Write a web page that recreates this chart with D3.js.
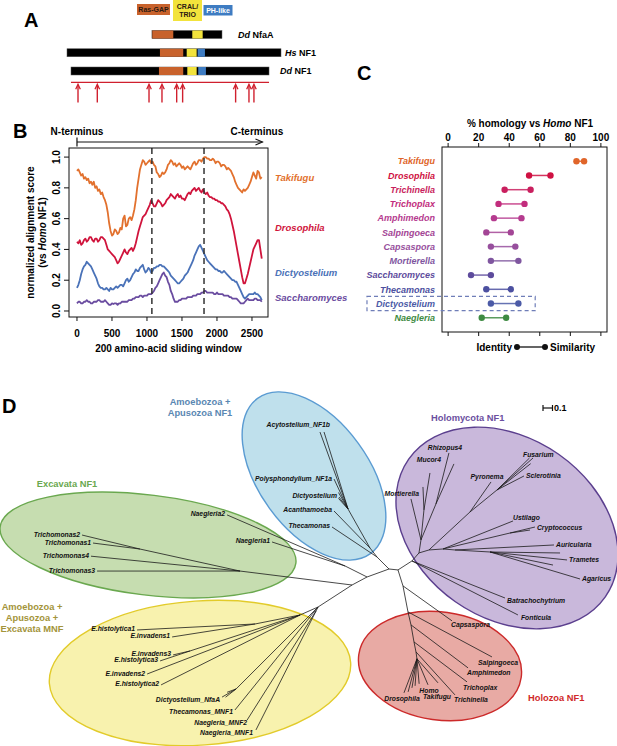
<!DOCTYPE html>
<html>
<head>
<meta charset="utf-8">
<script src="https://cdn.jsdelivr.net/npm/d3@7"></script>
<style>
  body { margin: 0; background: #fff; }
  svg { display: block; font-family: "Liberation Sans", Arial, sans-serif; font-weight: bold; }
</style>
</head>
<body>
<svg id="fig" width="617" height="746"></svg>
<script>
// ---------- A: domain architecture (aa positions, aligned on Hs NF1) ----------
var proteinNames = ['Dd NfaA', 'Hs NF1', 'Dd NF1'];
var proteinSpans = [[1127, 2056], [0, 2839], [53, 2680]];
var domainTypes = ['Ras-GAP', 'CRAL/TRIO', 'PH-like'];
var domainSpans = [
  [[1131, 1410], [1662, 1800], null],
  [[1233, 1542], [1588, 1720], [1733, 1830]],
  [[1220, 1542], [1596, 1720], [1741, 1843]]
];
var mutationSites = [146, 402, 1088, 1260, 1455, 1534, 2237, 2414, 2480];

// ---------- B: sliding window alignment score (one value every 20 aa) ----------
var windowStep = 20;
var bSeries = ['Takifugu', 'Drosophila', 'Dictyostelium', 'Saccharomyces'];
var takifuguScore = [.91,.92,.90,.88,.89,.86,.87,.85,.86,.83,
  .84,.82,.84,.80,.81,.78,.79,.76,.77,.74,
  .72,.69,.64,.57,.52,.49,.50,.53,.52,.50,
  .51,.54,.53,.60,.62,.55,.56,.60,.61,.59,
  .62,.66,.72,.80,.86,.92,.95,.98,.97,.95,
  .96,.97,.98,.96,.97,.95,.94,.90,.89,.87,
  .88,.90,.89,.90,.92,.95,.96,.98,.97,.95,
  .96,.94,.95,.96,.95,.93,.94,.92,.93,.94,
  .93,.92,.94,.96,.97,.95,.96,.98,.98,.97,
  .99,1.0,1.0,.99,.99,.98,.98,.99,.98,.96,
  .97,.97,.96,.94,.95,.95,.94,.92,.93,.92,
  .91,.89,.87,.84,.82,.80,.79,.78,.77,.79,
  .78,.79,.80,.82,.84,.87,.90,.88,.86,.91,
  .90,.86,.87];
var drosophilaScore = [.45,.44,.46,.43,.44,.46,.47,.45,.46,.48,
  .48,.46,.45,.47,.47,.45,.46,.48,.48,.47,
  .46,.43,.40,.39,.38,.37,.36,.35,.33,.31,
  .32,.34,.36,.38,.40,.38,.37,.39,.40,.41,
  .39,.41,.44,.48,.52,.55,.58,.61,.62,.63,
  .65,.67,.69,.72,.70,.68,.68,.70,.72,.71,
  .70,.68,.69,.70,.72,.73,.74,.76,.75,.74,
  .73,.75,.76,.74,.75,.73,.73,.72,.74,.76,
  .77,.76,.78,.79,.80,.78,.79,.80,.78,.77,
  .79,.77,.76,.77,.75,.74,.74,.73,.73,.72,
  .72,.71,.71,.70,.70,.69,.68,.66,.65,.63,
  .60,.56,.52,.47,.42,.37,.32,.27,.22,.18,
  .18,.21,.24,.28,.32,.36,.40,.42,.44,.46,
  .46,.40,.34];
var dictyScore = [.15,.17,.20,.24,.27,.29,.30,.32,.31,.30,
  .29,.27,.25,.23,.21,.18,.16,.15,.15,.14,
  .14,.15,.14,.13,.15,.14,.14,.15,.16,.15,
  .16,.17,.17,.16,.18,.20,.21,.19,.20,.22,
  .24,.25,.27,.26,.26,.28,.29,.30,.27,.25,
  .26,.28,.27,.25,.26,.28,.28,.29,.29,.30,
  .30,.29,.29,.28,.27,.26,.25,.23,.22,.21,
  .20,.19,.18,.18,.19,.20,.21,.23,.24,.25,
  .27,.29,.31,.33,.36,.38,.40,.42,.43,.41,
  .39,.37,.35,.33,.32,.31,.30,.29,.28,.27,
  .27,.26,.26,.25,.25,.26,.25,.24,.23,.22,
  .21,.20,.20,.19,.19,.17,.15,.13,.11,.09,
  .08,.09,.10,.11,.11,.11,.11,.12,.11,.11,
  .10,.09,.07];
var saccharoScore = [.05,.06,.06,.05,.05,.06,.06,.07,.06,.06,
  .05,.05,.06,.06,.06,.07,.07,.06,.06,.06,
  .07,.06,.05,.04,.04,.05,.045,.05,.05,.04,
  .05,.05,.06,.06,.06,.06,.06,.07,.07,.07,
  .08,.08,.09,.09,.09,.10,.10,.09,.10,.10,
  .10,.11,.11,.11,.12,.13,.15,.16,.18,.20,
  .22,.24,.25,.23,.22,.19,.17,.13,.11,.08,
  .06,.06,.06,.07,.07,.08,.08,.08,.08,.09,
  .09,.09,.09,.10,.10,.10,.11,.11,.11,.12,
  .12,.13,.13,.12,.12,.12,.12,.12,.11,.11,
  .12,.11,.11,.11,.11,.10,.10,.10,.10,.09,
  .09,.08,.08,.08,.08,.07,.06,.05,.05,.05,
  .06,.07,.08,.07,.07,.07,.07,.08,.08,.07,
  .07,.07,.06];
var bLabelLevels = [0.87, 0.545, 0.25, 0.09];
var domainBreaks = [1070, 1815];
var bXTicks = [0, 500, 1000, 1500, 2000, 2500];
var bYTicks = [0, 0.2, 0.4, 0.6, 0.8, 1.0];

// ---------- C: % identity / similarity vs Homo NF1 ----------
var cSpecies = ['Takifugu', 'Drosophila', 'Trichinella', 'Trichoplax', 'Amphimedon', 'Salpingoeca',
  'Capsaspora', 'Mortierella', 'Saccharomyces', 'Thecamonas', 'Dictyostelium', 'Naegleria'];
var cIdentity = [84, 53, 37, 33, 30, 25, 28, 28, 15, 25, 28, 22];
var cSimilarity = [89, 67, 54, 50, 48, 41, 44, 46, 28, 41, 46, 38];
var cTicks = [0, 20, 40, 60, 80, 100];

// ---------- D: unrooted NF1 tree: [node, parent, branch length (subst/site), direction (deg)] ----------
var treeEdges = [
  ['R0', 'L0', 0.095, 6], ['A0', 'L0', 0.179, -135], ['X0', 'L0', 0.246, 160],
  ['N0', 'X0', 0.259, -153.4], ['Naegleria2', 'N0', 1.353, -156.6], ['Naegleria1', 'N0', 0.809, -161.8],
  ['X1', 'X0', 0.179, 151.9], ['T0', 'X1', 1.188, -172.9], ['T1', 'T0', 1.078, -167.6],
  ['Trichomonas2', 'T1', 0.628, -166.4], ['Trichomonas1', 'T1', 0.499, -172.7],
  ['Trichomonas4', 'T0', 1.577, -174.3], ['Trichomonas3', 'T0', 1.505, 180],
  ['M0', 'X1', 0.426, 147.1], ['Me', 'M0', 0.207, 156], ['Me1', 'Me', 0.483, 168.7],
  ['E.histolytica1', 'Me1', 1.244, 177.1], ['E.invadens1', 'Me1', 0.884, 171.1],
  ['Me3', 'Me', 1.218, 161.9], ['E.invadens3', 'Me3', 0.184, 166.8], ['E.histolytica3', 'Me3', 0.333, 161.6],
  ['E.invadens2', 'Me', 1.726, 158.9], ['E.histolytica2', 'Me', 1.638, 153.3],
  ['Md', 'M0', 1.221, 135], ['Dictyostelium_NfaA', 'Md', 0.17, 150], ['_md1', 'Md', 0.14, 142], ['_md2', 'Md', 0.10, 160],
  ['Thecamonas_MNF1', 'M0', 1.393, 128.9], ['Mn', 'M0', 0.047, 116.6],
  ['Naegleria_MNF2', 'Mn', 1.358, 122.3], ['Naegleria_MNF1', 'Mn', 1.403, 116.8],
  ['Thecamonas', 'A0', 0.569, -146.3], ['A1', 'A0', 0.12, -127.9], ['Acanthamoeba', 'A1', 0.543, -134.2],
  ['D0', 'A1', 0.471, -119.4], ['Acytostelium_NF1b', 'D0', 0.862, -110], ['_d1', 'D0', 0.849, -107.3],
  ['Polysphondylium_NF1a', 'D0', 0.348, -115], ['Dictyostelium', 'D0', 0.158, -126.9],
  ['_d2', 'D0', 0.20, -120], ['_d3', 'D0', 0.15, -132],
  ['H0', 'R0', 0.175, -32.7], ['Z0', 'R0', 0.176, 72.6],
  ['Batrachochytrium', 'H0', 1.054, 21.7], ['Fonticula', 'H0', 1.252, 27],
  ['H1', 'H0', 0.112, -48.8], ['Hm', 'H1', 0.139, -81.3], ['Mortierella', 'Hm', 0.444, -103.7],
  ['Hmu', 'Hm', 0.317, -84.3], ['Mucor4', 'Hmu', 0.394, -80.8], ['_m1', 'Hmu', 0.242, -92.5],
  ['Hrh', 'Hm', 0.41, -67.4], ['Rhizopus4', 'Hrh', 0.554, -75.7], ['_m2', 'Hrh', 0.462, -65.8],
  ['Hd', 'H1', 0.11, -16.7], ['Ha', 'Hd', 0.588, -42.8], ['Pyronema', 'Ha', 0.386, -55],
  ['Ha2', 'Ha', 0.367, -39.2], ['Fusarium', 'Ha2', 0.507, -41.6], ['_f1', 'Ha2', 0.48, -44.5],
  ['_f2', 'Ha2', 0.45, -38], ['Sclerotinia', 'Ha2', 0.32, -27.4],
  ['Hb', 'Hd', 0.148, -4], ['Ustilago', 'Hb', 0.794, -21.8], ['Hcr', 'Hb', 0.725, -13.4],
  ['Cryptococcus', 'Hcr', 0.27, -13.5], ['_c1', 'Hcr', 0.213, -8.5],
  ['Hag', 'Hb', 0.127, 4.8], ['Auricularia', 'Hag', 1.043, -2.9], ['Hag2', 'Hag', 0.369, 3.3],
  ['Trametes', 'Hag2', 0.815, 5.9], ['_t1', 'Hag2', 0.737, 0.8], ['_t2', 'Hag2', 0.677, 11.7],
  ['Agaricus', 'Hag2', 0.989, 16.7],
  ['Capsaspora', 'Z0', 0.634, 35.5], ['Z1', 'Z0', 0.279, 79.1], ['Salpingoeca', 'Z1', 1.003, 28.2],
  ['Z2', 'Z1', 0.14, 77], ['Amphimedon', 'Z2', 0.752, 37], ['Z3', 'Z2', 0.182, 80],
  ['Trichoplax', 'Z3', 0.699, 37], ['Z4', 'Z3', 0.107, 78.7], ['Trichinella', 'Z4', 0.611, 47.8],
  ['Z5', 'Z4', 0.074, 81.9], ['Homo', 'Z5', 0.297, 67], ['Takifugu', 'Z5', 0.336, 48.8],
  ['Drosophila', 'Z5', 0.383, 110.9], ['_z1', 'Z5', 0.36, 105], ['_z2', 'Z5', 0.31, 99.8],
  ['_z3', 'Z5', 0.285, 94], ['_z4', 'Z5', 0.264, 85]
];

// ====================================================================
var svg = d3.select('#fig');

function letter(t, x, y) {
  svg.append('text').attr('x', x).attr('y', y).attr('font-size', 20).text(t);
}
letter('A', 24, 27);
letter('B', 13, 138);
letter('C', 357, 80);
letter('D', 2, 413);

// ---------------- panel A ----------------
var domainColors = ['#c8622c', '#f2e33c', '#3e7cc2'];
var ax = d3.scaleLinear().domain([0, 2839]).range([67, 281]);
var aRow = d3.scalePoint().domain(proteinNames).range([34.5, 71]);
var barH = 8;
var gA = svg.append('g');

// legend
var legendBoxes = [[137, 4, 33, 11], [173, 0, 29, 21], [203.5, 5, 29, 10.5]];
domainTypes.forEach(function(d, i) {
  var b = legendBoxes[i];
  gA.append('rect').attr('x', b[0]).attr('y', b[1]).attr('width', b[2]).attr('height', b[3])
    .attr('fill', domainColors[i]);
  var lines = d.indexOf('/') > 0 ? ['CRAL/', 'TRIO'] : [d];
  lines.forEach(function(l, j) {
    gA.append('text').attr('x', b[0] + b[2] / 2).attr('y', b[1] + b[3] / 2 + 2.5 + (j - (lines.length - 1) / 2) * 8.5)
      .attr('text-anchor', 'middle').attr('font-size', 7)
      .attr('fill', i === 2 ? '#fff' : '#2b1a12').text(l);
  });
});

proteinNames.forEach(function(p, i) {
  var y = aRow(p) - barH / 2;
  gA.append('rect').attr('x', ax(proteinSpans[i][0])).attr('y', y)
    .attr('width', ax(proteinSpans[i][1]) - ax(proteinSpans[i][0])).attr('height', barH)
    .attr('fill', '#000').attr('stroke', '#555').attr('stroke-width', 0.5);
  domainSpans[i].forEach(function(s, k) {
    if (!s) return;
    gA.append('rect').attr('x', ax(s[0])).attr('y', y).attr('width', ax(s[1]) - ax(s[0]))
      .attr('height', barH).attr('fill', domainColors[k]);
  });
});
var aLabelX = [238, 285, 280];
proteinNames.forEach(function(p, i) {
  var parts = p.split(' ');
  var t = gA.append('text').attr('x', aLabelX[i]).attr('y', aRow(p) + 3.3).attr('font-size', 9);
  t.append('tspan').attr('font-style', 'italic').text(parts[0]);
  t.append('tspan').text(' ' + parts[1]);
});

// mutation arrows under Dd NF1
var red = '#d0202e';
var mutY0 = 82.3, mutY1 = 102.5;
gA.append('line').attr('x1', ax(proteinSpans[2][0])).attr('x2', ax(proteinSpans[2][1]))
  .attr('y1', mutY0).attr('y2', mutY0).attr('stroke', red).attr('stroke-width', 1.3);
mutationSites.forEach(function(m) {
  var x = ax(m);
  gA.append('line').attr('x1', x).attr('x2', x).attr('y1', mutY1).attr('y2', mutY0 + 2.5)
    .attr('stroke', red).attr('stroke-width', 1.4);
  gA.append('path').attr('d', 'M' + (x - 2.3) + ',' + (mutY0 + 7) + 'L' + x + ',' + (mutY0 + 2) + 'L' + (x + 2.3) + ',' + (mutY0 + 7))
    .attr('fill', 'none').attr('stroke', red).attr('stroke-width', 1.3);
});

// ---------------- panel B ----------------
var bx = d3.scaleLinear().domain([-114, 2729]).range([69, 268]);
var by = d3.scaleLinear().domain([-0.039, 1.059]).range([317, 148]);
var bColors = ['#e2712e', '#d0143c', '#4a72b8', '#6a4ca0'];
var bData = [takifuguScore, drosophilaScore, dictyScore, saccharoScore];
var gB = svg.append('g');

// N -> C terminus arrow
gB.append('text').attr('x', bx(0)).attr('y', 134.5).attr('text-anchor', 'middle').attr('font-size', 10).text('N-terminus');
gB.append('text').attr('x', bx(2570)).attr('y', 134.5).attr('text-anchor', 'middle').attr('font-size', 10).text('C-terminus');
gB.append('line').attr('x1', bx(0)).attr('x2', bx(2650)).attr('y1', 142).attr('y2', 142).attr('stroke', '#111').attr('stroke-width', 1);
gB.append('line').attr('x1', bx(0)).attr('x2', bx(0)).attr('y1', 137.5).attr('y2', 146.5).attr('stroke', '#111').attr('stroke-width', 1.2);
gB.append('path').attr('d', 'M' + (bx(2650) - 7) + ',139L' + bx(2650) + ',142L' + (bx(2650) - 7) + ',145')
  .attr('fill', 'none').attr('stroke', '#111').attr('stroke-width', 1.1);

var line = d3.line().x(function(d) { return bx(d[0]); }).y(function(d) { return by(d[1]); });
bData.forEach(function(vals, i) {
  var pts = vals.map(function(v, k) { return [k * windowStep, v]; });
  gB.append('path').attr('d', line(pts)).attr('fill', 'none').attr('stroke', bColors[i])
    .attr('stroke-width', 1.8).attr('stroke-linejoin', 'round');
});
domainBreaks.forEach(function(d) {
  gB.append('line').attr('x1', bx(d)).attr('x2', bx(d)).attr('y1', 148).attr('y2', 317)
    .attr('stroke', '#333').attr('stroke-width', 1.5).attr('stroke-dasharray', '6,4');
});
gB.append('rect').attr('x', 69).attr('y', 148).attr('width', 199).attr('height', 169)
  .attr('fill', 'none').attr('stroke', '#111').attr('stroke-width', 1);

bXTicks.forEach(function(t) {
  gB.append('line').attr('x1', bx(t)).attr('x2', bx(t)).attr('y1', 317).attr('y2', 321).attr('stroke', '#111');
  gB.append('text').attr('x', bx(t)).attr('y', 337).attr('text-anchor', 'middle').attr('font-size', 10).text(t);
});
bYTicks.forEach(function(t) {
  gB.append('line').attr('x1', 64).attr('x2', 69).attr('y1', by(t)).attr('y2', by(t)).attr('stroke', '#111');
  gB.append('text').attr('transform', 'translate(59.5,' + by(t) + ') rotate(-90)')
    .attr('text-anchor', 'middle').attr('font-size', 10).text(d3.format('.1f')(t));
});
gB.append('text').attr('x', 168.5).attr('y', 352).attr('text-anchor', 'middle').attr('font-size', 10)
  .text('200 amino-acid sliding window');
gB.append('text').attr('transform', 'translate(34,232.5) rotate(-90)').attr('text-anchor', 'middle')
  .attr('font-size', 10).text('normalized alignment score');
var yt2 = gB.append('text').attr('transform', 'translate(46,232.5) rotate(-90)').attr('text-anchor', 'middle').attr('font-size', 10);
yt2.append('tspan').text('(vs ');
yt2.append('tspan').attr('font-style', 'italic').text('Homo');
yt2.append('tspan').text(' NF1)');
bSeries.forEach(function(s, i) {
  gB.append('text').attr('x', 275).attr('y', by(bLabelLevels[i]) + 3.5).attr('font-size', 9.5)
    .attr('font-style', 'italic').attr('fill', bColors[i]).text(s);
});

// ---------------- panel C ----------------
var cx = d3.scaleLinear().domain([-4, 104]).range([442, 607]);
var cy = d3.scaleLinear().domain([0, 13]).range([147, 332]);
var cColors = ['#e0652a', '#cf1142', '#c91f5e', '#c22d7d', '#b53b8f', '#a34595',
  '#974f9d', '#7f569f', '#5d4b9c', '#4c50a0', '#4b5aa6', '#3e8b42'];
var gC = svg.append('g');
var ct = gC.append('text').attr('x', 530).attr('y', 126.5).attr('text-anchor', 'middle').attr('font-size', 10);
ct.append('tspan').text('% homology vs ');
ct.append('tspan').attr('font-style', 'italic').text('Homo');
ct.append('tspan').text(' NF1');
cTicks.forEach(function(t) {
  gC.append('line').attr('x1', cx(t)).attr('x2', cx(t)).attr('y1', 143).attr('y2', 147).attr('stroke', '#111');
  gC.append('line').attr('x1', cx(t)).attr('x2', cx(t)).attr('y1', 332).attr('y2', 336).attr('stroke', '#111');
  gC.append('text').attr('x', cx(t)).attr('y', 140.5).attr('text-anchor', 'middle').attr('font-size', 10).text(t);
});
gC.append('rect').attr('x', 442).attr('y', 147).attr('width', 165).attr('height', 185)
  .attr('fill', 'none').attr('stroke', '#111').attr('stroke-width', 1);

var dictyLabel;
cSpecies.forEach(function(s, i) {
  var y = cy(i + 1);
  var lab = gC.append('text').attr('x', 435).attr('y', y + 3.2).attr('text-anchor', 'end')
    .attr('font-size', 9).attr('font-style', 'italic').attr('fill', cColors[i]).text(s);
  if (s === 'Dictyostelium') dictyLabel = lab;
  gC.append('line').attr('x1', cx(cIdentity[i])).attr('x2', cx(cSimilarity[i])).attr('y1', y).attr('y2', y)
    .attr('stroke', cColors[i]).attr('stroke-opacity', 0.85).attr('stroke-width', 1.5);
  [cIdentity[i], cSimilarity[i]].forEach(function(v) {
    gC.append('circle').attr('cx', cx(v)).attr('cy', y).attr('r', 3.2).attr('fill', cColors[i]);
  });
});
// dashed highlight around Dictyostelium row
var dIdx = cSpecies.indexOf('Dictyostelium') + 1;
var dBox = dictyLabel.node().getBBox();
gC.append('rect').attr('x', dBox.x - 9).attr('y', cy(dIdx - 0.5))
  .attr('width', cx(57) - dBox.x + 9).attr('height', cy(dIdx + 0.5) - cy(dIdx - 0.5))
  .attr('fill', 'none').attr('stroke', '#6f7eb8').attr('stroke-width', 1.2).attr('stroke-dasharray', '4,3');
// identity / similarity key
gC.append('text').attr('x', 512).attr('y', 350.5).attr('text-anchor', 'end').attr('font-size', 10).text('Identity');
gC.append('line').attr('x1', 517).attr('x2', 545).attr('y1', 347).attr('y2', 347).attr('stroke', '#111').attr('stroke-width', 1.3);
[517, 545].forEach(function(x) { gC.append('circle').attr('cx', x).attr('cy', 347).attr('r', 3).attr('fill', '#111'); });
gC.append('text').attr('x', 550).attr('y', 350.5).attr('font-size', 10).text('Similarity');

// ---------------- panel D ----------------
var gD = svg.append('g');
// clade ellipses: [cx, cy, rx, ry, rotation, fill, stroke]
var cladeShapes = [
  [314, 476, 96, 55, 54, '#bfe0ec', '#5a9bd2'],
  [148, 545, 149, 50, 7, '#c6ddb0', '#6aa84f'],
  [200, 673, 151, 72, -4, '#f8f2ae', '#e2cb2a'],
  [507, 528, 120, 90, 35, '#c9b8db', '#5b3f8e'],
  [440, 666, 82, 54, 8, '#e8aaa4', '#cc2a2a']
];
cladeShapes.forEach(function(c) {
  gD.append('ellipse').attr('transform', 'translate(' + c[0] + ',' + c[1] + ') rotate(' + c[4] + ')')
    .attr('rx', c[2]).attr('ry', c[3]).attr('fill', c[5]).attr('stroke', c[6]).attr('stroke-width', 1.4);
});

var bl = d3.scaleLinear().domain([0, 1]).range([0, 95]);
var treeOrigin = [389, 569];
var pos = { L0: treeOrigin };
var parents = {};
treeEdges.forEach(function(e) {
  var p = pos[e[1]], a = e[3] * Math.PI / 180, r = bl(e[2]);
  pos[e[0]] = [p[0] + r * Math.cos(a), p[1] + r * Math.sin(a)];
  parents[e[1]] = true;
});
gD.selectAll('line.branch').data(treeEdges).enter().append('line').attr('class', 'branch')
  .attr('x1', function(e) { return pos[e[1]][0]; }).attr('y1', function(e) { return pos[e[1]][1]; })
  .attr('x2', function(e) { return pos[e[0]][0]; }).attr('y2', function(e) { return pos[e[0]][1]; })
  .attr('stroke', '#1a1a1a').attr('stroke-width', 0.8);

// label placement overrides: [anchor, dx, dy]
var labelPlace = {
  'Acytostelium_NF1b': ['end', 10, -5], 'Mortierella': ['end', 8, -3],
  'Rhizopus4': ['middle', -4, -3], 'Mucor4': ['middle', -1, -11], 'Pyronema': ['middle', -4, -3],
  'Fusarium': ['start', -10, -1], 'Salpingoeca': ['middle', 6, 8], 'Homo': ['middle', 1, 8],
  'Takifugu': ['middle', -1, 16], 'Drosophila': ['middle', -2, 8], 'Capsaspora': ['start', -1, 6],
  'Amphimedon': ['start', -1, 7], 'Trichoplax': ['start', -4, 8], 'Trichinella': ['start', -1, 7],
  'Batrachochytrium': ['start', 2, 5], 'Fonticula': ['start', 3, 5], 'Ustilago': ['start', 0, -1],
  'Naegleria_MNF2': ['end', 0, 5], 'Naegleria_MNF1': ['end', -3, 5],
  'Thecamonas_MNF1': ['end', -2, 4], 'Dictyostelium_NfaA': ['end', -2, 5]
};
treeEdges.forEach(function(e) {
  var id = e[0];
  if (parents[id] || id.charAt(0) === '_') return;
  var p = pos[id];
  var pl = labelPlace[id] || (Math.cos(e[3] * Math.PI / 180) < 0 ? ['end', -2, 1.5] : ['start', 2, 2.5]);
  gD.append('text').attr('x', p[0] + pl[1]).attr('y', p[1] + pl[2]).attr('text-anchor', pl[0])
    .attr('font-size', 6.8).attr('font-style', 'italic').attr('fill', '#111').text(id);
});

// clade titles
var cladeText = [
  [['Amoebozoa +', 'Apusozoa NF1'], 200, 405, 'middle', '#5a87b2'],
  [['Excavata NF1'], 67, 487, 'middle', '#6aa84f'],
  [['Amoebozoa +', 'Apusozoa +', 'Excavata MNF'], 32, 610, 'middle', '#a3943a'],
  [['Holomycota NF1'], 431, 421, 'start', '#6b4fa0'],
  [['Holozoa NF1'], 528, 701, 'start', '#d02a2a']
];
cladeText.forEach(function(c) {
  c[0].forEach(function(l, j) {
    gD.append('text').attr('x', c[1]).attr('y', c[2] + j * 11).attr('text-anchor', c[3])
      .attr('font-size', 9.3).attr('fill', c[4]).text(l);
  });
});

// scale bar 0.1
var sbx = 543, sby = 408;
gD.append('line').attr('x1', sbx).attr('x2', sbx + bl(0.1)).attr('y1', sby).attr('y2', sby).attr('stroke', '#111').attr('stroke-width', 1.2);
[sbx, sbx + bl(0.1)].forEach(function(x) {
  gD.append('line').attr('x1', x).attr('x2', x).attr('y1', sby - 3).attr('y2', sby + 3).attr('stroke', '#111').attr('stroke-width', 1.2);
});
gD.append('text').attr('x', sbx + bl(0.1) + 1.5).attr('y', sby + 3.3).attr('font-size', 9).text('0.1');
</script>
</body>
</html>
